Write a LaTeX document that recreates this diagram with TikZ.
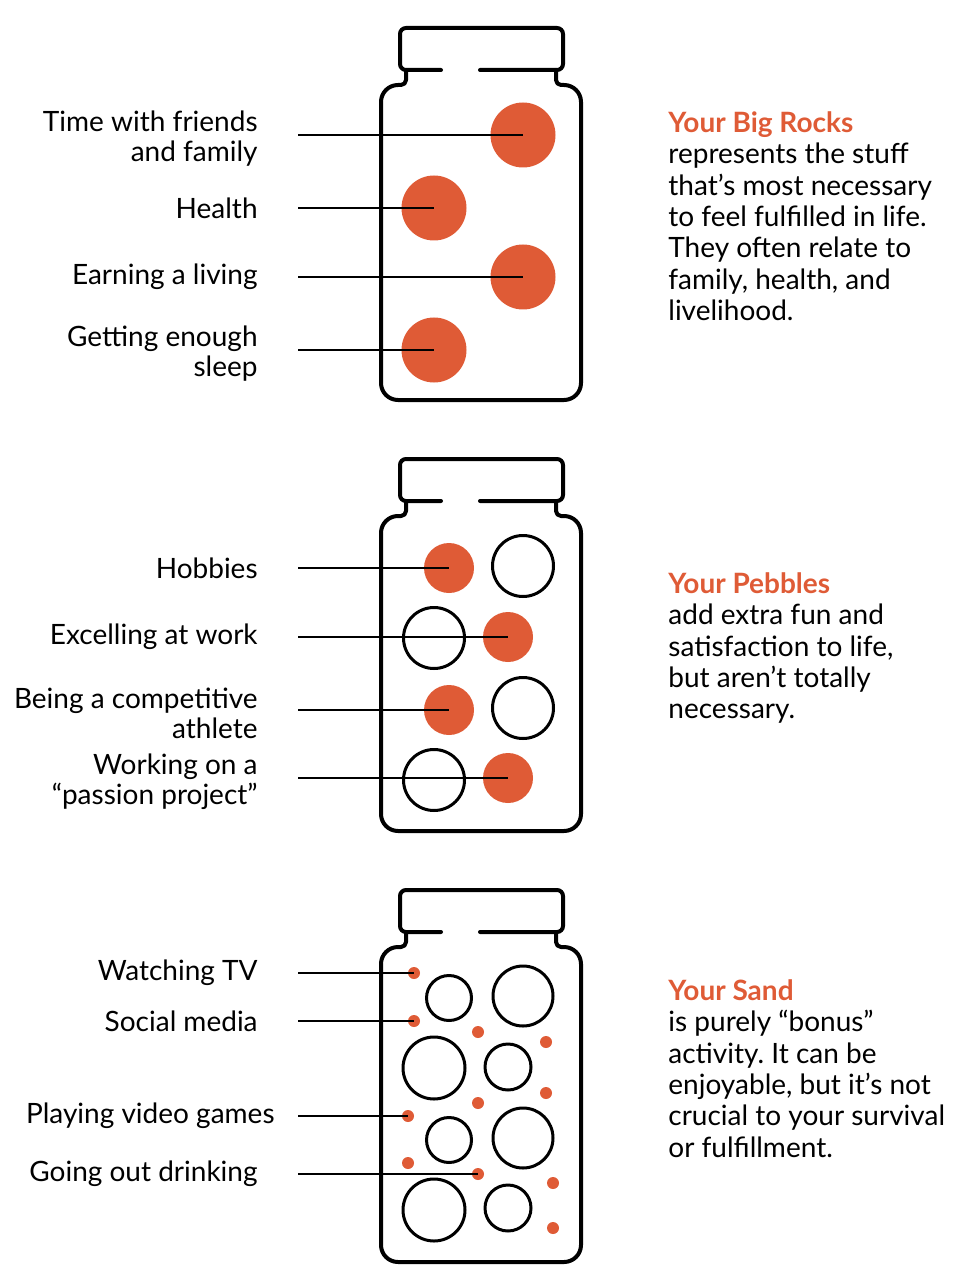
\documentclass[tikz,border=0pt]{standalone}
\usepackage{fontspec}
\setmainfont{Lato}
\usetikzlibrary{positioning}
\definecolor{rockorange}{RGB}{223,91,54}
\frenchspacing

\tikzset{
    jar/.style={line width=2pt, line join=round, line cap=round},
    link/.style={line width=0.7pt},
    lbl/.style={inner sep=0pt, align=right, font=\fontsize{14}{15.2}\selectfont},
    lbltwo/.style={lbl, yshift=-1.8pt},
    blurb/.style={inner sep=0pt, align=left, anchor=north west, font=\fontsize{14}{15.7}\selectfont},
    rock/.style={circle, fill=rockorange, inner sep=0pt, minimum size=32.5pt},
    pebble/.style={circle, fill=rockorange, inner sep=0pt, minimum size=25pt},
    hollow/.style={circle, draw, line width=1.5pt, inner sep=0pt, minimum size=#1},
    grain/.style={circle, fill=rockorange, inner sep=0pt, minimum size=6pt}
}

\begin{document}
\begin{tikzpicture}[x=0.5pt, y=-0.5pt]
    \useasboundingbox (0,0) rectangle (972,1278);

    % the three jars
    \foreach \dy in {0,431,862}{
        \begin{scope}[shift={(0,\dy)}]
            \draw[jar, rounded corners=3pt] (441,70) -- (400,70) -- (400,28) -- (563,28) -- (563,70) -- (480,70);
            \draw[jar] (406,70) [rounded corners=2.5pt] -- (406,85) [rounded corners=8.5pt] -- (381,85) -- (381,400) -- (581,400) -- (581,85) [rounded corners=2.5pt] -- (556,85) -- (556,70);
        \end{scope}
    }

    % big rocks
    \node[rock] (r1) at (523,135) {};
    \node[rock] (r2) at (434,208) {};
    \node[rock] (r3) at (523,277) {};
    \node[rock] (r4) at (434,350) {};

    \coordinate (a1) at (298,135);
    \coordinate (a2) at (298,208);
    \coordinate (a3) at (298,277);
    \coordinate (a4) at (298,350);

    \node[lbltwo, left=20pt of a1] (ra1) {Time with friends\\and family};
    \node[lbl, left=20pt of a2] (ra2) {Health};
    \node[lbl, left=20pt of a3] (ra3) {Earning a living};
    \node[lbltwo, left=20pt of a4] (ra4) {Getting enough\\sleep};

    \draw[link] (a1) -- (r1.center);
    \draw[link] (a2) -- (r2.center);
    \draw[link] (a3) -- (r3.center);
    \draw[link] (a4) -- (r4.center);

    \node[blurb] (rt) at (668,111) {\textcolor{rockorange}{\bfseries Your Big Rocks}\\represents the stuff\\that’s most necessary\\to feel fulfilled in life.\\They often relate to\\family, health, and\\livelihood.};

    % pebbles
    \node[hollow=30.5pt] (po1) at (523,566) {};
    \node[hollow=30.5pt] (po2) at (434,638) {};
    \node[hollow=30.5pt] (po3) at (523,708) {};
    \node[hollow=30.5pt] (po4) at (434,780) {};

    \node[pebble] (p1) at (449,568) {};
    \node[pebble] (p2) at (508,637) {};
    \node[pebble] (p3) at (449,710) {};
    \node[pebble] (p4) at (508,778) {};

    \coordinate (b1) at (298,568);
    \coordinate (b2) at (298,637);
    \coordinate (b3) at (298,710);
    \coordinate (b4) at (298,778);

    \node[lbl, left=20pt of b1] (pa1) {Hobbies};
    \node[lbl, left=20pt of b2] (pa2) {Excelling at work};
    \node[lbltwo, left=20pt of b3] (pa3) {Being a competitive\\athlete};
    \node[lbltwo, left=20pt of b4] (pa4) {Working on a\\“passion project”};

    \draw[link] (b1) -- (p1.center);
    \draw[link] (b2) -- (p2.center);
    \draw[link] (b3) -- (p3.center);
    \draw[link] (b4) -- (p4.center);

    \node[blurb] (pt) at (668,572) {\textcolor{rockorange}{\bfseries Your Pebbles}\\add extra fun and\\satisfaction to life,\\but aren’t totally\\necessary.};

    % sand
    \node[hollow=22.5pt] (so1) at (449,998) {};
    \node[hollow=30pt] (so2) at (523,996) {};
    \node[hollow=31pt] (so3) at (434,1068) {};
    \node[hollow=23pt] (so4) at (508,1067) {};
    \node[hollow=22.5pt] (so5) at (449,1140) {};
    \node[hollow=30pt] (so6) at (523,1138) {};
    \node[hollow=31pt] (so7) at (434,1210) {};
    \node[hollow=23pt] (so8) at (508,1208) {};

    \node[grain] (s1) at (414,973) {};
    \node[grain] (s2) at (414,1021) {};
    \node[grain] (s3) at (478,1032) {};
    \node[grain] (s4) at (546,1042) {};
    \node[grain] (s5) at (546,1093) {};
    \node[grain] (s6) at (478,1103) {};
    \node[grain] (s7) at (408,1116) {};
    \node[grain] (s8) at (408,1163) {};
    \node[grain] (s9) at (478,1174) {};
    \node[grain] (s10) at (553,1183) {};
    \node[grain] (s11) at (553,1228) {};

    \coordinate (c1) at (298,973);
    \coordinate (c2) at (298,1021);
    \coordinate (c3) at (298,1116);
    \coordinate (c4) at (298,1174);

    \node[lbl, left=20pt of c1] (sa1) {Watching TV};
    \node[lbl, left=20pt of c2] (sa2) {Social media};
    \node[lbl, left=11.5pt of c3] (sa3) {Playing video games};
    \node[lbl, left=20pt of c4] (sa4) {Going out drinking};

    \draw[link] (c1) -- (s1.center);
    \draw[link] (c2) -- (s2.center);
    \draw[link] (c3) -- (s7.center);
    \draw[link] (c4) -- (s9.center);

    \node[blurb] (st) at (668,979) {\textcolor{rockorange}{\bfseries Your Sand}\\is purely “bonus”\\activity. It can be\\enjoyable, but it’s not\\crucial to your survival\\or fulfillment.};
\end{tikzpicture}
\end{document}
